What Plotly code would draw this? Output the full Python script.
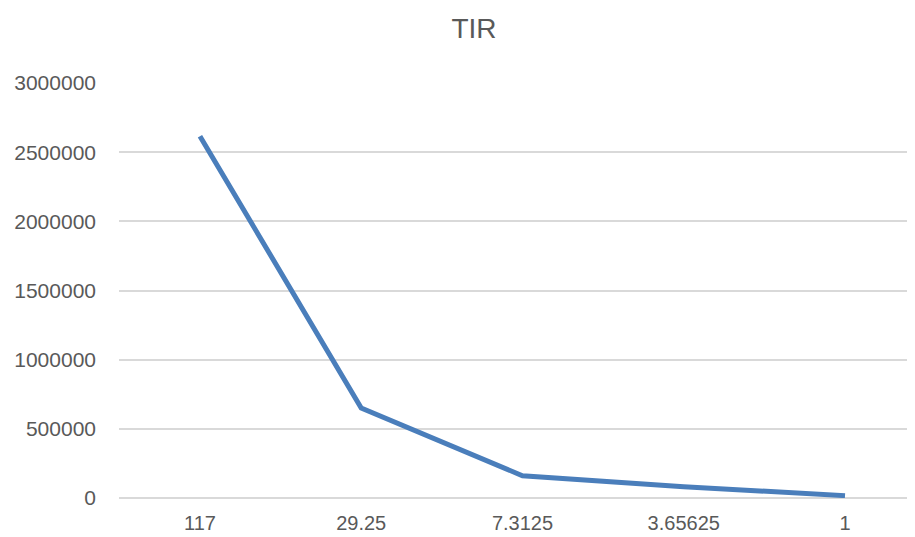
import plotly.graph_objects as go

categories = ["117", "29.25", "7.3125", "3.65625", "1"]
values = [2615000, 651000, 161000, 82000, 17000]
y_ticks = [0, 500000, 1000000, 1500000, 2000000, 2500000, 3000000]
title_text = "TIR"

idx = list(range(len(categories)))

fig = go.Figure()
fig.add_trace(go.Scatter(
    x=idx, y=values, mode="lines",
    line=dict(color="#4A7EBB", width=5),
    hoverinfo="skip",
))

font_family = "Liberation Sans, Arial, sans-serif"
W, H = 907, 529
fig.update_layout(
    width=W, height=H,
    margin=dict(l=111, r=0, t=75, b=39),
    paper_bgcolor="white", plot_bgcolor="white",
    showlegend=False,
    font=dict(family=font_family, color="#595959", size=21),
    title=dict(text=title_text, x=(474 - 119) / 796, xref="paper", xanchor="center",
               y=1 - 20 / H, yref="container", yanchor="middle",
               font=dict(size=28, color="#595959", family=font_family)),
)
fig.update_xaxes(
    range=[-0.502, 4.434],
    tickmode="array", tickvals=idx, ticktext=categories,
    showgrid=False, zeroline=False, showline=False,
    ticks="", ticklabelstandoff=11, automargin=False,
    tickfont=dict(size=20, color="#595959"),
)
fig.update_yaxes(
    range=[0, 3000000],
    tickmode="array", tickvals=y_ticks, ticktext=[str(v) for v in y_ticks],
    showgrid=True, gridcolor="#D9D9D9", gridwidth=1.5,
    zeroline=True, zerolinecolor="#D9D9D9", zerolinewidth=1.5,
    showline=False, ticks="", ticklabelstandoff=22, automargin=False,
    tickfont=dict(size=21, color="#595959"),
)

fig.write_html("out.html")
